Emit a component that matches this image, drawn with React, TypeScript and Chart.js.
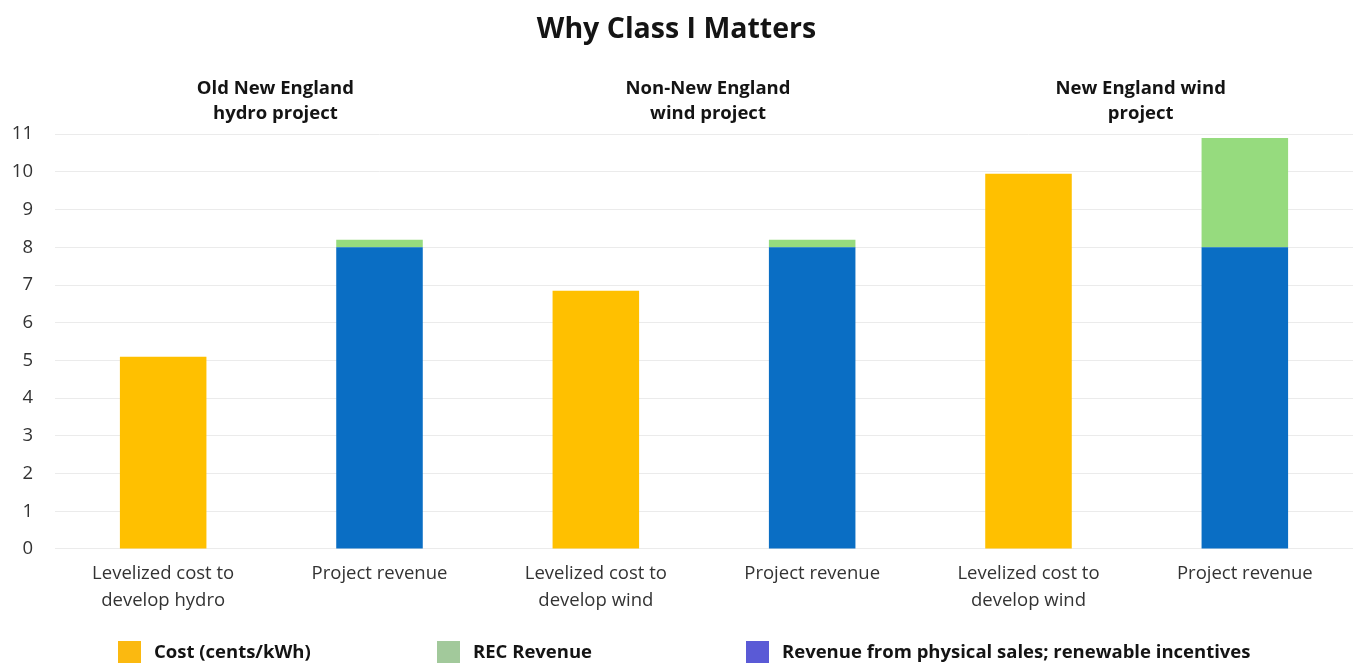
import React, { useEffect, useRef } from "react";
import { Chart, registerables } from "chart.js";

Chart.register(...registerables);

const chartTitle = "Why Class I Matters";

const categories: (string | string[])[] = [
  ["Levelized cost to", "develop hydro"],
  "Project revenue",
  ["Levelized cost to", "develop wind"],
  "Project revenue",
  ["Levelized cost to", "develop wind"],
  "Project revenue",
];

const groupHeaders: string[][] = [
  ["Old New England", "hydro project"],
  ["Non-New England", "wind project"],
  ["New England wind", "project"],
];

const costValues: (number | null)[] = [5.1, null, 6.85, null, 9.95, null];
const physicalRevenueValues: (number | null)[] = [null, 8.0, null, 8.0, null, 8.0];
const recRevenueValues: (number | null)[] = [null, 0.2, null, 0.2, null, 2.9];

const yTicks: number[] = [0, 1, 2, 3, 4, 5, 6, 7, 8, 9, 10, 11];

const legendEntries: string[] = [
  "Cost (cents/kWh)",
  "REC Revenue",
  "Revenue from physical sales; renewable incentives",
];

const FONT = "'Open Sans', 'Noto Sans', sans-serif";

const COST_COLOR = "#FFC000";
const PHYSICAL_COLOR = "#0A6EC4";
const REC_COLOR = "#96DB7E";
const LEGEND_COLORS = ["#FBB910", "#A2C99B", "#5A5AD6"];
const LEGEND_X = [118, 437, 746];

// Group headings above each pair of bars, and the legend row at the bottom.
const annotationPlugin = {
  id: "groupHeadersAndLegend",
  afterDraw(chart: Chart) {
    const { ctx, chartArea } = chart;
    const x = chart.scales.x;
    ctx.save();
    ctx.fillStyle = "#141414";
    ctx.font = `bold 18.5px ${FONT}`;
    ctx.textAlign = "center";
    ctx.textBaseline = "middle";
    groupHeaders.forEach((lines, g) => {
      const cx = (x.getPixelForValue(2 * g) + x.getPixelForValue(2 * g + 1)) / 2 + 4;
      lines.forEach((line, i) => {
        ctx.fillText(line, cx, chartArea.top - 45 + i * 25);
      });
    });

    const legendY = chart.height - 13;
    ctx.font = `bold 18.5px ${FONT}`;
    ctx.textAlign = "left";
    legendEntries.forEach((text, i) => {
      const bx = LEGEND_X[i];
      ctx.fillStyle = LEGEND_COLORS[i];
      ctx.fillRect(bx, legendY - 11, 23, 22);
      ctx.fillStyle = "#141414";
      ctx.fillText(text, bx + 36, legendY + 1);
    });
    ctx.restore();
  },
};

export default function App() {
  const canvasRef = useRef<HTMLCanvasElement | null>(null);

  useEffect(() => {
    if (!canvasRef.current) return;
    const chart = new Chart(canvasRef.current, {
      type: "bar",
      data: {
        labels: categories,
        datasets: [
          {
            label: legendEntries[0],
            data: costValues,
            backgroundColor: COST_COLOR,
            stack: "s",
          },
          {
            label: legendEntries[2],
            data: physicalRevenueValues,
            backgroundColor: PHYSICAL_COLOR,
            stack: "s",
          },
          {
            label: legendEntries[1],
            data: recRevenueValues,
            backgroundColor: REC_COLOR,
            stack: "s",
          },
        ],
      },
      options: {
        animation: false,
        responsive: true,
        maintainAspectRatio: false,
        layout: { padding: { left: 0, right: 0, top: 0, bottom: 40 } },
        datasets: {
          bar: { barPercentage: 0.4, categoryPercentage: 1.0 },
        },
        plugins: {
          legend: { display: false },
          tooltip: { enabled: false },
          title: {
            display: true,
            text: chartTitle,
            color: "#141414",
            font: { family: FONT, size: 28.5, weight: "bold" },
            padding: { top: 13, bottom: 87 },
          },
        },
        scales: {
          x: {
            stacked: true,
            grid: { display: false, drawTicks: false },
            border: { display: false },
            ticks: {
              color: "#333333",
              padding: 11,
              maxRotation: 0,
              autoSkip: false,
              font: { family: FONT, size: 18.5, lineHeight: 1.46 },
            },
          },
          y: {
            stacked: true,
            min: yTicks[0],
            max: yTicks[yTicks.length - 1],
            afterFit(scale: any) {
              scale.width = 55;
            },
            afterBuildTicks(scale: any) {
              scale.ticks = yTicks.map((v) => ({ value: v }));
            },
            grid: { color: "#ebebeb", drawTicks: false },
            border: { display: false },
            ticks: {
              color: "#333333",
              padding: 22,
              font: { family: FONT, size: 18.5 },
            },
          },
        },
      },
      plugins: [annotationPlugin],
    });
    return () => chart.destroy();
  }, []);

  return (
    <div
      style={{
        position: "absolute",
        left: 0,
        top: 0,
        width: 1353,
        height: 665,
        background: "#ffffff",
      }}
    >
      <canvas ref={canvasRef} />
    </div>
  );
}
